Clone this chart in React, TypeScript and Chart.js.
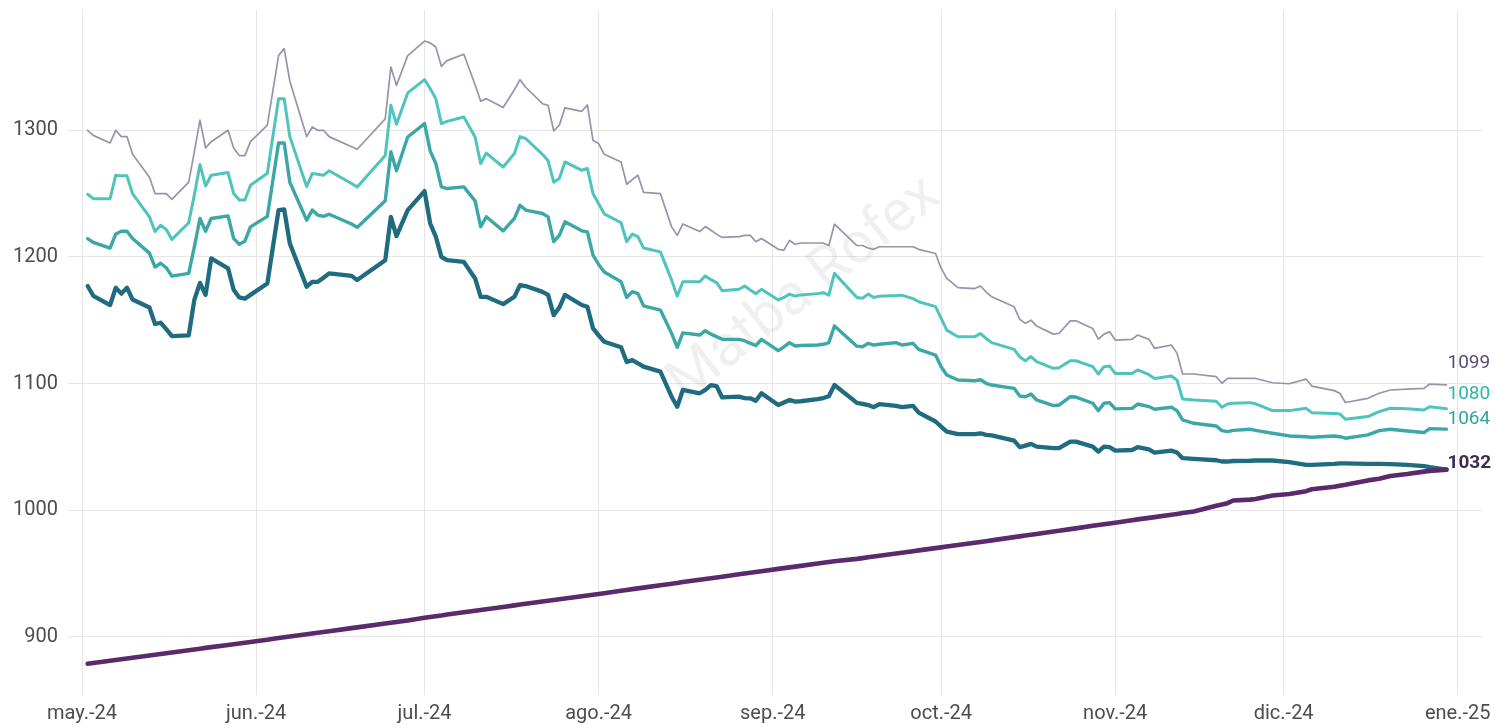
import React, { useEffect, useRef } from "react";
import { Chart, registerables } from "chart.js";

Chart.register(...registerables);

// ---- data ----
const dates = [
  "2024-05-02","2024-05-03","2024-05-06","2024-05-07","2024-05-08","2024-05-09","2024-05-10","2024-05-13","2024-05-14","2024-05-15","2024-05-16","2024-05-17","2024-05-20","2024-05-21","2024-05-22","2024-05-23","2024-05-24","2024-05-27","2024-05-28","2024-05-29","2024-05-30","2024-05-31",
  "2024-06-03","2024-06-05","2024-06-06","2024-06-07","2024-06-10","2024-06-11","2024-06-12","2024-06-13","2024-06-14","2024-06-18","2024-06-19","2024-06-24","2024-06-25","2024-06-26","2024-06-28",
  "2024-07-01","2024-07-02","2024-07-03","2024-07-04","2024-07-05","2024-07-08","2024-07-10","2024-07-11","2024-07-12","2024-07-15","2024-07-17","2024-07-18","2024-07-19","2024-07-22","2024-07-23","2024-07-24","2024-07-25","2024-07-26","2024-07-29","2024-07-30","2024-07-31",
  "2024-08-01","2024-08-02","2024-08-05","2024-08-06","2024-08-07","2024-08-08","2024-08-09","2024-08-12","2024-08-14","2024-08-15","2024-08-16","2024-08-19","2024-08-20","2024-08-21","2024-08-22","2024-08-23","2024-08-26","2024-08-27","2024-08-28","2024-08-29","2024-08-30",
  "2024-09-02","2024-09-03","2024-09-04","2024-09-05","2024-09-06","2024-09-09","2024-09-10","2024-09-11","2024-09-12","2024-09-16","2024-09-17","2024-09-18","2024-09-19","2024-09-20","2024-09-23","2024-09-24","2024-09-26","2024-09-27","2024-09-30",
  "2024-10-01","2024-10-02","2024-10-04","2024-10-07","2024-10-08","2024-10-09","2024-10-10","2024-10-14","2024-10-15","2024-10-16","2024-10-17","2024-10-18","2024-10-21","2024-10-22","2024-10-24","2024-10-25","2024-10-28","2024-10-29","2024-10-30","2024-10-31",
  "2024-11-01","2024-11-04","2024-11-05","2024-11-07","2024-11-08","2024-11-11","2024-11-12","2024-11-13","2024-11-15","2024-11-19","2024-11-20","2024-11-21","2024-11-22","2024-11-25","2024-11-26","2024-11-29",
  "2024-12-02","2024-12-05","2024-12-06","2024-12-10","2024-12-11","2024-12-12","2024-12-16","2024-12-18","2024-12-20","2024-12-23","2024-12-26","2024-12-27","2024-12-30",
];

const seriesTop = [
  1300,1296,1290,1300,1295,1295,1281,1263,1250,1250,1250,1245.5,1259,1283,1308,1286,1291,1300,1286,1280,1280,1291,
  1304,1359,1364.5,1339,1295,1302.6,1300,1300,1295,1287,1285,1309,1350,1335.5,1359,
  1370.5,1369,1365.8,1350.5,1355,1360,1336,1323,1325,1318,1332,1340,1334,1321,1319.7,1299.5,1304,1317.7,1315,1320,1292,
  1289.5,1281,1275,1257.4,1261,1264.5,1251,1250,1223.7,1217,1226,1220,1224,1221,1218,1215.4,1216,1217,1217,1212,1214.6,
  1206,1205.3,1213,1210,1211,1211,1211,1209,1225.8,1209,1209,1207,1206,1208,1208,1208,1208,1206,1202.7,
  1190.9,1183,1175.7,1175,1177,1172.4,1168.5,1160.6,1150.7,1147.5,1150,1145.4,1139,1139.7,1149.5,1149.5,1143.5,1135,1139,1140.9,
  1134.3,1134.9,1138.3,1134.9,1127.8,1130.4,1124,1107.5,1107.5,1105.4,1100.2,1104,1104,1104,1104,1100.6,
  1099.8,1103.5,1098,1094.4,1092.3,1085,1088.3,1092.3,1094.9,1095.5,1096.2,1099.6,1099,
];

const seriesUpper = [
  1249.5,1246,1246,1264.5,1264,1264,1250,1231.6,1220,1225,1221.7,1213.8,1227,1249,1273,1256,1264.5,1266.6,1250,1245,1245,1256.6,
  1266,1325,1325,1295,1255.5,1265.8,1265.3,1264.5,1268,1258,1255.3,1280,1319.7,1304.7,1329.5,
  1340,1333,1325,1305.3,1307,1310.5,1294.7,1273.7,1282,1271,1281.7,1295,1293.5,1281,1276,1259,1262,1275,1268.4,1269.8,1250,
  1242,1234,1227,1212,1218,1216,1207,1204,1181.7,1169,1180.4,1180.4,1185,1182,1179.7,1173.3,1174.4,1177,1173.8,1171,1174.4,
  1166,1168,1170.6,1169,1170,1171,1171.7,1169.8,1187,1168,1167.3,1170.6,1168,1169,1169.5,1169.8,1167,1164.6,1160.7,
  1151.5,1142.2,1137,1137,1139.5,1135.7,1132.3,1127,1121,1118,1121.3,1117.3,1112,1112.5,1118,1118,1113.3,1107.5,1113.3,1113.8,
  1108,1108,1110.7,1107,1104,1105.9,1102.8,1087.8,1087,1086,1081.2,1083.8,1084.5,1084.9,1084,1078.6,
  1078.6,1080.4,1077,1076.3,1076,1071.8,1073.9,1077.8,1080.5,1080,1079.1,1081.7,1080,
];

const seriesMid = [
  1214.5,1211.4,1207,1218,1220.3,1220.3,1214.5,1203,1192,1195,1191.4,1184.8,1187,1208,1230.3,1220.3,1230.3,1232.4,1214.6,1210,1212.4,1223.7,
  1232,1290,1290,1259,1229,1237,1233,1232,1233.7,1226,1223.3,1244.3,1283,1268,1294.7,
  1305.3,1283.7,1273.8,1255.3,1254,1255.3,1244.3,1223.8,1231.7,1220.6,1230.4,1240.8,1237,1234.3,1231.6,1212,1217,1227.7,1220.6,1219.8,1201.4,
  1194,1188,1180.4,1168,1172.5,1171,1161.4,1158,1139.6,1128.6,1140,1138.3,1141.7,1139,1137,1134.9,1134.9,1133.8,1131.7,1130,1134.9,
  1126,1129,1132.3,1129.6,1130,1130.4,1131,1132.3,1145.4,1129.5,1129,1131.7,1130.4,1131,1132.3,1130.4,1131.7,1127,1122.5,
  1113.3,1106.7,1102.8,1102.2,1103,1100.2,1098.8,1096.2,1090.1,1089.6,1091.7,1087,1082.5,1083,1089.6,1089.3,1084.4,1078.5,1084.4,1084.9,
  1080,1080.4,1083.8,1081.8,1079.7,1081.3,1078.6,1071.2,1068.6,1066.5,1062.8,1062,1063,1063.9,1063,1060.7,
  1058.6,1058,1057.6,1058.6,1058,1056.8,1059.4,1062.8,1063.9,1062.5,1061.3,1064.4,1064,
];

const seriesLow = [
  1177,1169.3,1162,1175.6,1171,1175.6,1166.4,1160,1147,1148,1143,1137.5,1138,1166,1179.5,1170,1198.8,1191,1174,1168,1167,1170,
  1179,1237,1237.5,1210.7,1176.5,1180.3,1180.3,1183.5,1187,1185,1181.7,1197.4,1231.6,1216.4,1237,
  1252,1226.4,1216,1200,1197.4,1196,1183,1168.5,1168.5,1162.7,1168.5,1177.7,1177,1172.4,1170,1154,1160,1170,1162,1160.6,1143.6,
  1138,1133,1128.6,1117,1118.5,1116,1113.3,1109.4,1089.6,1081.7,1094.9,1092.3,1095,1098.8,1098,1089,1089.6,1088.5,1088.3,1086.4,1092.3,
  1083,1085,1087,1085.7,1086,1087.6,1088.5,1090,1098.8,1084.7,1084,1083,1081.3,1083.8,1082.3,1081.3,1082.3,1077,1070,
  1066,1062,1060,1060,1060.7,1059.4,1059,1054.9,1049.7,1051,1052.3,1050.2,1048.9,1049,1054.1,1054.1,1050.2,1046.3,1050.2,1049.7,
  1047,1047.5,1049.7,1048,1045.5,1047,1045.5,1041,1040.5,1039.4,1038.4,1038.4,1038.8,1039,1039.2,1039.2,
  1038,1035.7,1035.7,1036.5,1037,1037,1036.5,1036.5,1036.3,1035.7,1034.8,1034,1032,
];

const seriesOfficial = [
  878.7,879.3,881,881.6,882.2,882.8,883.4,885.2,885.8,886.4,887,887.6,889.4,890,890.6,891.2,891.8,893.5,894.1,894.7,895.3,895.9,
  897.7,899,899.6,900.2,902,902.6,903.2,903.8,904.4,906.8,907.4,910.4,911,911.6,912.8,
  915,915.6,916.2,916.8,917.5,919.3,920.5,921.1,921.7,923.5,924.8,925.4,926,927.8,928.4,929,929.6,930.2,932,932.6,933.2,
  933.8,934.4,936.3,937,937.6,938.2,938.8,940.7,941.9,942.5,943.2,945,945.6,946.2,946.8,947.4,949.3,949.9,950.5,951.1,951.7,
  953.6,954.2,954.8,955.4,956,957.9,958.5,959.1,959.7,961.5,962.1,962.8,963.4,964,965.8,966.4,967.6,968.2,970,
  970.6,971.3,972.5,974.3,974.9,975.5,976.1,978.7,979.3,979.9,980.6,981.2,983.1,983.7,985,985.6,987.6,988.2,988.9,989.5,
  990.1,992,992.7,993.9,994.5,996.4,997,997.7,998.9,1003.5,1004.5,1005.5,1007.6,1008.3,1008.8,1011.5,
  1012.8,1015,1016.5,1018.5,1019.3,1020,1023.5,1024.8,1027,1028.5,1030.4,1031,1032,
];

const monthTicks = ["2024-05-01","2024-06-01","2024-07-01","2024-08-01","2024-09-01","2024-10-01","2024-11-01","2024-12-01","2025-01-01"];
const monthLabels = ["may.-24","jun.-24","jul.-24","ago.-24","sep.-24","oct.-24","nov.-24","dic.-24","ene.-25"];
const yTicks = [900, 1000, 1100, 1200, 1300];
const watermark = "Matba Rofex";

// ---- helpers ----
const ORIGIN = Date.UTC(2024, 4, 1);
function dayIndex(s: string): number {
  const [y, m, d] = s.split("-").map(Number);
  return (Date.UTC(y, m - 1, d) - ORIGIN) / 86400000;
}

const FONT = "Roboto, 'Noto Sans', sans-serif";

const seriesStyles = [
  { values: seriesTop, color: "#9a92ad", width: 1.7, order: 5, label: { color: "#584d78", offset: -22, bold: false } },
  { values: seriesUpper, color: "#4fc4bc", width: 3, order: 4, label: { color: "#2fb7ae", offset: -15, bold: false } },
  { values: seriesMid, color: "#3ca7a7", width: 3.4, order: 3, label: { color: "#35a2a2", offset: -10, bold: false } },
  { values: seriesLow, color: "#1f6b80", width: 4.3, order: 2, label: null },
  { values: seriesOfficial, color: "#5a2a6c", width: 4.6, order: 1, label: { color: "#3b2c55", offset: -6, bold: true } },
];

const endLabelPlugin = {
  id: "endLabels",
  afterDatasetsDraw(chart: any) {
    const ctx = chart.ctx;
    ctx.save();
    chart.data.datasets.forEach((ds: any, i: number) => {
      const cfg = seriesStyles[i].label;
      if (!cfg) return;
      const meta = chart.getDatasetMeta(i);
      const last = meta.data[meta.data.length - 1];
      const value = ds.data[ds.data.length - 1].y;
      ctx.font = `${cfg.bold ? "bold " : ""}19px ${FONT}`;
      ctx.fillStyle = cfg.color;
      ctx.textAlign = "left";
      ctx.textBaseline = "middle";
      ctx.fillText(String(Math.round(value)), last.x + 1, last.y + cfg.offset);
    });
    ctx.restore();
  },
};

const watermarkPlugin = {
  id: "watermark",
  beforeDatasetsDraw(chart: any) {
    const ctx = chart.ctx;
    ctx.save();
    ctx.translate(805, 290);
    ctx.rotate((-38 * Math.PI) / 180);
    ctx.font = `58px ${FONT}`;
    ctx.fillStyle = "rgba(0,0,0,0.06)";
    ctx.textAlign = "center";
    ctx.textBaseline = "middle";
    ctx.fillText(watermark, 0, 0);
    ctx.restore();
  },
};

export default function App() {
  const canvasRef = useRef<HTMLCanvasElement | null>(null);

  useEffect(() => {
    document.body.style.margin = "0";
    const canvas = canvasRef.current;
    if (!canvas) return;
    const xs = dates.map(dayIndex);
    const chart = new Chart(canvas, {
      type: "line",
      data: {
        datasets: seriesStyles.map((s) => ({
          data: xs.map((x, i) => ({ x, y: s.values[i] })),
          borderColor: s.color,
          borderWidth: s.width,
          pointRadius: 0,
          pointHoverRadius: 0,
          tension: 0,
          fill: false,
          order: s.order,
          borderJoinStyle: "round" as const,
          borderCapStyle: "round" as const,
        })),
      },
      options: {
        animation: false,
        responsive: false,
        devicePixelRatio: 1,
        layout: { padding: { top: 10, right: 12, left: 0, bottom: 0 } },
        plugins: { legend: { display: false }, tooltip: { enabled: false } },
        scales: {
          x: {
            type: "linear",
            min: -2.5,
            max: 249.5,
            afterBuildTicks: (axis: any) => {
              axis.ticks = monthTicks.map((m) => ({ value: dayIndex(m) }));
            },
            afterFit: (axis: any) => {
              axis.height = 33;
              axis.paddingLeft = 0;
              axis.paddingRight = 0;
            },
            ticks: {
              autoSkip: false,
              maxRotation: 0,
              padding: 7,
              color: "#4d4d4d",
              font: { family: FONT, size: 20 },
              callback: (_v: any, index: number) => monthLabels[index],
            },
            grid: { color: "#e6e6e6", lineWidth: 1, drawTicks: false },
            border: { display: false },
          },
          y: {
            type: "linear",
            min: 854,
            max: 1395,
            afterBuildTicks: (axis: any) => {
              axis.ticks = yTicks.map((v) => ({ value: v }));
            },
            afterFit: (axis: any) => {
              axis.width = 68;
              axis.paddingTop = 0;
              axis.paddingBottom = 0;
            },
            ticks: {
              padding: 10,
              color: "#4d4d4d",
              font: { family: FONT, size: 20 },
              callback: (v: any) => String(v),
            },
            grid: { color: "#e6e6e6", lineWidth: 1, drawTicks: false },
            border: { display: false },
          },
        },
      },
      plugins: [watermarkPlugin, endLabelPlugin],
    });
    return () => chart.destroy();
  }, []);

  return (
    <div style={{ position: "fixed", left: 0, top: 0, width: 1495, height: 728, background: "#fff" }}>
      <canvas ref={canvasRef} width={1495} height={728} style={{ display: "block" }} />
    </div>
  );
}
